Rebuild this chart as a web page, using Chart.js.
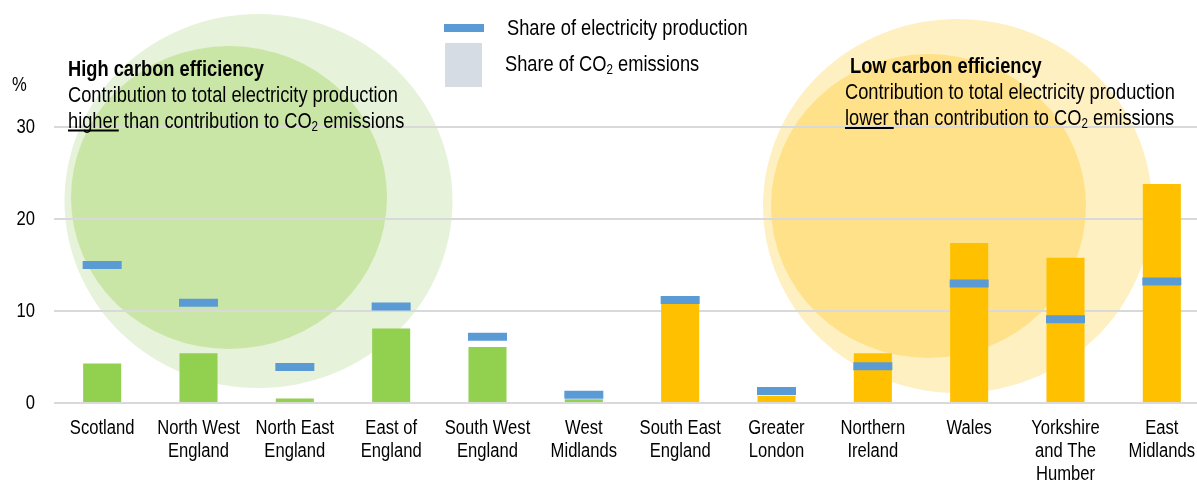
<!DOCTYPE html>
<html>
<head>
<meta charset="utf-8">
<script src="https://cdn.jsdelivr.net/npm/chart.js@4.4.1/dist/chart.umd.min.js"></script>
<style>
  html, body { margin: 0; padding: 0; background: #fff; overflow: hidden; }
  #wrap { width: 1212px; height: 483px; }
</style>
</head>
<body>
<div id="wrap"><canvas id="regionChart" width="1212" height="483"></canvas></div>
<script>
// regions, left group = high carbon efficiency, right group = low
const regions = [
  'Scotland', ['North West', 'England'], ['North East', 'England'], ['East of', 'England'],
  ['South West', 'England'], ['West', 'Midlands'], ['South East', 'England'], ['Greater', 'London'],
  ['Northern', 'Ireland'], 'Wales', ['Yorkshire', 'and The', 'Humber'], ['East', 'Midlands']
];
const efficiency = ['high', 'high', 'high', 'high', 'high', 'high', 'low', 'low', 'low', 'low', 'low', 'low'];

// share of CO2 emissions (%)
const co2Share = [4.3, 5.4, 0.5, 8.1, 6.1, 0.4, 11.0, 0.8, 5.4, 17.4, 15.8, 23.8];
// share of electricity production (%)
const elecShare = [15.0, 10.9, 3.9, 10.5, 7.2, 0.9, 11.2, 1.3, 4.0, 13.0, 9.1, 13.2];

const yTicks = [0, 10, 20, 30];

const FONT = '"Liberation Sans", Arial, sans-serif';
const SX = 0.83; // horizontal squeeze, narrow look of the original
const GREEN = '#92D050';
const ORANGE = '#FFC000';
const BLUE = '#5B9BD5';

function setFont(ctx, size, bold) {
  ctx.font = (bold ? 'bold ' : '') + size + 'px ' + FONT;
}

function richWidth(ctx, parts, size, bold) {
  let w = 0;
  parts.forEach(p => {
    setFont(ctx, p[1] ? Math.round(size * 0.65) : size, bold);
    w += ctx.measureText(p[0]).width;
  });
  return w * SX;
}

// draws squeezed text, parts = [[text, isSub], ...], returns end x
function drawRich(ctx, parts, x, y, size, bold, align) {
  if (align === 'center') x -= richWidth(ctx, parts, size, bold) / 2;
  if (align === 'right') x -= richWidth(ctx, parts, size, bold);
  ctx.save();
  ctx.translate(x, y);
  ctx.scale(SX, 1);
  ctx.textAlign = 'left';
  let cx = 0;
  parts.forEach(p => {
    const sub = p[1];
    setFont(ctx, sub ? Math.round(size * 0.65) : size, bold);
    ctx.fillText(p[0], cx, sub ? size * 0.12 : 0);
    cx += ctx.measureText(p[0]).width;
  });
  ctx.restore();
  return x + cx * SX;
}

const bubblePlugin = {
  id: 'bubbles',
  beforeDraw(chart) {
    const ctx = chart.ctx;
    const circles = [
      { x: 258.5, y: 201, rx: 194, ry: 187, c: '#E6F2D9' },
      { x: 229, y: 197.5, rx: 158, ry: 151.5, c: '#C9E6A6' },
      { x: 957.5, y: 206, rx: 194.5, ry: 187, c: '#FFF0C2' },
      { x: 928.5, y: 206, rx: 157.5, ry: 152, c: '#FFE189' }
    ];
    ctx.save();
    circles.forEach(c => {
      ctx.beginPath();
      ctx.ellipse(c.x, c.y, c.rx, c.ry, 0, 0, Math.PI * 2);
      ctx.fillStyle = c.c;
      ctx.fill();
    });
    ctx.restore();
  },
  afterDraw(chart) {
    const ctx = chart.ctx;
    const xs = chart.scales.x;
    const ys = chart.scales.y;
    ctx.save();
    ctx.fillStyle = '#000';
    ctx.textBaseline = 'middle';

    // axis labels, placed with the chart's scales
    xs.ticks.forEach((t, i) => {
      let lbl = xs.getLabelForValue(t.value);
      if (!Array.isArray(lbl)) lbl = [lbl];
      const px = xs.getPixelForTick(i);
      lbl.forEach((line, k) => {
        drawRich(ctx, [[line]], px, xs.top + 25 + k * 23, 20, false, 'center');
      });
    });
    ys.ticks.forEach(t => {
      drawRich(ctx, [[String(t.value)]], ys.right - 19, ys.getPixelForValue(t.value), 20, false, 'right');
    });

    ctx.textBaseline = 'alphabetic';
    drawRich(ctx, [['%']], 12, 91, 20);

    // legend
    ctx.fillStyle = BLUE;
    ctx.fillRect(444, 24, 40, 8);
    ctx.fillStyle = '#D6DCE4';
    ctx.fillRect(445, 43, 37, 44);
    ctx.fillStyle = '#000';
    drawRich(ctx, [['Share of electricity production']], 507, 35, 22);
    drawRich(ctx, [['Share of CO'], ['2', true], [' emissions']], 505, 71, 22);

    // high efficiency note
    drawRich(ctx, [['High carbon efficiency']], 68, 76, 22, true);
    drawRich(ctx, [['Contribution to total electricity production']], 68, 102, 22);
    let ux = drawRich(ctx, [['higher']], 68, 128, 22);
    ctx.fillRect(68, 129.5, ux - 68, 2);
    drawRich(ctx, [[' than contribution to CO'], ['2', true], [' emissions']], ux, 128, 22);

    // low efficiency note
    drawRich(ctx, [['Low carbon efficiency']], 850, 73, 22, true);
    drawRich(ctx, [['Contribution to total electricity production']], 845, 99, 22);
    ux = drawRich(ctx, [['lower ']], 845, 125, 22);
    ctx.fillRect(845, 127, ux - 845, 2);
    drawRich(ctx, [['than contribution to CO'], ['2', true], [' emissions']], ux, 125, 22);
    ctx.restore();
  }
};

new Chart(document.getElementById('regionChart'), {
  data: {
    labels: regions,
    datasets: [
      {
        type: 'line',
        label: 'Share of electricity production',
        data: elecShare,
        showLine: false,
        pointStyle: 'line',
        pointRadius: 19.5,
        pointHoverRadius: 19.5,
        pointBorderWidth: 8,
        pointHoverBorderWidth: 8,
        borderColor: BLUE,
        backgroundColor: BLUE,
        order: 0
      },
      {
        type: 'bar',
        label: 'Share of CO2 emissions',
        data: co2Share,
        backgroundColor: efficiency.map(e => e === 'high' ? GREEN : ORANGE),
        barPercentage: 0.395,
        categoryPercentage: 1,
        order: 1
      }
    ]
  },
  options: {
    responsive: false,
    animation: false,
    layout: {
      autoPadding: false,
      padding: { top: 127, left: 0, right: 2, bottom: 0 }
    },
    plugins: {
      legend: { display: false },
      tooltip: { enabled: false }
    },
    scales: {
      x: {
        offset: true,
        grid: { display: false, drawTicks: false },
        border: { display: false },
        ticks: { display: false, autoSkip: false, maxRotation: 0 },
        afterFit(s) {
          s.height = 80;
          s.paddingLeft = 0;
          s.paddingRight = 0;
        }
      },
      y: {
        min: 0,
        max: 30,
        afterBuildTicks(s) { s.ticks = yTicks.map(v => ({ value: v })); },
        grid: { color: '#D9D9D9', lineWidth: 2, drawTicks: false },
        border: { display: false },
        ticks: { display: false },
        afterFit(s) { s.width = 54; }
      }
    }
  },
  plugins: [bubblePlugin]
});
</script>
</body>
</html>
